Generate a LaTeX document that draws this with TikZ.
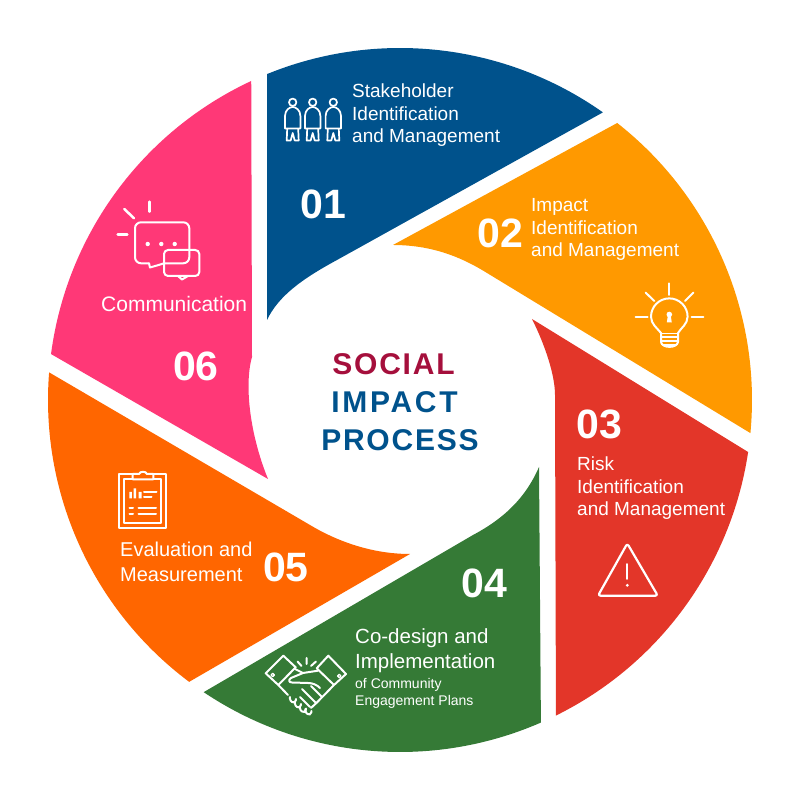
\documentclass[tikz,border=0pt]{standalone}
\usepackage{fontspec}
\usepackage{xcolor}
\setmainfont{Liberation Sans}
\definecolor{bladeblue}{HTML}{00528C}
\definecolor{bladeamber}{HTML}{FF9900}
\definecolor{bladered}{HTML}{E33629}
\definecolor{bladegreen}{HTML}{357A36}
\definecolor{bladeorange}{HTML}{FF6600}
\definecolor{bladepink}{HTML}{FF3877}
\definecolor{titlered}{HTML}{A50F3C}
\tikzset{
  num/.style={anchor=base west,inner sep=0pt,text=white,font=\fontsize{41}{41}\selectfont\bfseries},
  lbl/.style={anchor=base west,inner sep=0pt,text=white,font=\fontsize{19}{22.5}\selectfont},
  ttl/.style={inner sep=0pt,anchor=base,font=\fontsize{30}{30}\selectfont\bfseries\addfontfeature{LetterSpace=6}},
  icon/.style={draw=white,line width=2pt,line join=round,line cap=round,fill=none},
}
\begin{document}
\begin{tikzpicture}[x=1pt,y=1pt]
\useasboundingbox (0,0) rectangle (800,800);
% blades
\fill[bladeblue] (400,400) ++(112.2:352) arc[start angle=112.2,end angle=54.8,radius=352] -- (337,540) .. controls (300,520) and (278,503) .. (267,480) -- cycle;
\fill[bladeamber] (400,400) ++(51.9:352) arc[start angle=51.9,end angle=-5.4,radius=352] -- (487,527) .. controls (455,547) and (425,555) .. (393,555) -- cycle;
\fill[bladered] (400,400) ++(-8.5:352) arc[start angle=-8.5,end angle=-63.7,radius=352] -- (555,405) .. controls (555,425) and (545,455) .. (532,481) -- cycle;
\fill[bladegreen] (400,400) ++(-66.4:352) arc[start angle=-66.4,end angle=-123.9,radius=352] -- (473,265) .. controls (505,282) and (526,303) .. (539,333) -- cycle;
\fill[bladeorange] (400,400) ++(-126.8:352) arc[start angle=-126.8,end angle=-184.5,radius=352] -- (310,275) .. controls (335,260) and (370,246) .. (410,246) -- cycle;
\fill[bladepink] (400,400) ++(172.5:352) arc[start angle=172.5,end angle=115,radius=352] -- (252,443) .. controls (244,415) and (250,365) .. (268,321) -- cycle;
% numbers
\foreach \n/\x/\y in {01/300/581, 02/477/552, 03/576/361, 04/461/202, 05/263/218, 06/173/419}
  \node[num] (n\n) at (\x,\y) {\n};
% labels
\node[lbl,align=left] (stakeholder) at (352,657) {Stakeholder\\Identification\\and Management};
\node[lbl,align=left] (impact) at (531,543) {Impact\\Identification\\and Management};
\node[lbl,align=left] (risk) at (577,284) {Risk\\Identification\\and Management};
\node[lbl,align=left,font=\fontsize{20.5}{25}\selectfont] (codesign) at (355,131) {Co-design and\\Implementation};
\node[lbl,align=left,font=\fontsize{14}{17}\selectfont] (community) at (355,94) {of Community\\Engagement Plans};
\node[lbl,align=left,font=\fontsize{20}{25}\selectfont] (evaluation) at (120,218) {Evaluation and\\Measurement};
\node[lbl,font=\fontsize{21}{25}\selectfont] (communication) at (101,488) {Communication};
% title
\node[ttl,text=titlered] (social) at (393.5,425) {SOCIAL};
\node[ttl,text=bladeblue,font=\fontsize{30}{30}\selectfont\bfseries\addfontfeature{LetterSpace=9}] (impactttl) at (394.5,387) {IMPACT};
\node[ttl,text=bladeblue] (process) at (400,349) {PROCESS};
% icons, written from the top left
\begin{scope}[shift={(0,800)},yscale=-1]
% people
\foreach \x in {292.7,312.7,333.3} {
  \draw[icon,line width=1.7pt] (\x,102.3) circle (3.7);
  \draw[icon,line width=1.7pt] (\x-7.7,128.5) -- (\x-7.7,116) .. controls (\x-7.7,110) and (\x-3,107) .. (\x,107) .. controls (\x+3,107) and (\x+7.7,110) .. (\x+7.7,116) -- (\x+7.7,128.5) -- cycle;
  \draw[icon,line width=1.7pt] (\x-5.5,129) -- (\x-6,140.5) -- (\x-2,140.5) -- (\x,133) -- (\x+2,140.5) -- (\x+6,140.5) -- (\x+5.5,129);
}
% bulb
\draw[icon] (661,333) .. controls (657,328) and (651,324) .. (651,316.7) arc[start angle=180,end angle=360,radius=18.3] .. controls (687.6,324) and (681,328) .. (678,333);
\draw[icon,line width=1.5pt] (661,333.3) -- (678,333.3) (661,337) -- (678,337) (661,341) -- (678,341) (663,345) -- (676,345);
\draw[icon] (661,333) -- (661,342) .. controls (662,348.5) and (677,348.5) .. (678,342) -- (678,333);
\fill[white] (669.3,314.5) circle (2.8);
\fill[white] (668,315) -- (666.8,322.5) -- (671.8,322.5) -- (670.6,315) -- cycle;
\foreach \a/\b/\c/\d in {669.3/283.3/669.3/295, 645.7/292.7/654.3/301, 693.3/292.7/685/301, 635.7/316.7/647.7/316.7, 691.7/316.7/703.3/316.7}
  \draw[icon] (\a,\b) -- (\c,\d);
% warning sign
\draw[icon,line width=2.2pt,rounded corners=2.5pt] (627.3,543.5) -- (657.8,595.7) -- (598,595.7) -- cycle;
\draw[icon,line width=1.7pt] (627.3,564) -- (627.3,579);
\fill[white] (627.3,585.3) circle (1.6);
% clipboard
\draw[icon] (119,474) rectangle (166,528.3);
\draw[icon] (124,479) rectangle (161,523.3);
\draw[icon,fill=bladeorange] (132.7,479.3) -- (132.7,474) -- (139,474) .. controls (140,471) and (146,471) .. (147,474) -- (153.3,474) -- (153.3,479.3) -- cycle;
\fill[white] (129.3,492) rectangle (131.9,498.5) (133.5,488.5) rectangle (136.2,498.5) (138.5,492) rectangle (141.7,498.5);
\draw[icon] (144,492.5) -- (156.5,492.5) (144,497) -- (151.5,497) (129.5,508.5) -- (133,508.5) (138.5,508.5) -- (156,508.5) (129.5,514.5) -- (133,514.5) (138.5,514.5) -- (156,514.5);
% handshake
\draw[icon] (265.7,673.3) -- (283.3,655.7) -- (295.7,667.3) -- (278.3,685) -- cycle;
\draw[icon] (346,674) -- (328.3,655.7) -- (316.7,668.3) -- (334,685) -- cycle;
\draw[icon,line width=1.4pt] (272.7,675) circle (1.7) (339.3,676) circle (1.7);
\draw[icon] (295,669) -- (303,673) (318,670.7) -- (303,673) -- (291,678) .. controls (288,680) and (289,682.5) .. (292,682.5) -- (308,683) .. controls (313,683) and (317,685) .. (320,688);
\draw[icon] (334,685) -- (316.7,702.7) -- (311,708) (278.3,685) -- (288,695) (311,686) -- (322,697) (302,689) -- (316,703) (300,697) -- (310,707);
\foreach \x/\y in {293/699.5, 298/704.5, 303/709, 308.5/711.5}
  \draw[icon,rounded corners=1.5pt] (\x-3,\y-2.5) -- (\x-3.5,\y) -- (\x,\y+3.5) -- (\x+2.5,\y+2.5) -- (\x+3,\y-0.5);
\draw[icon] (306.5,658) -- (306.5,664) (297.5,661.5) -- (301.5,666) (316,661.5) -- (311,666);
% chat bubbles
\draw[icon,rounded corners=6pt] (149,263.3) -- (135,263.3) -- (135,222.3) -- (189.3,222.3) -- (189.3,263.3) -- (164,263.3);
\draw[icon] (149,263.3) -- (150,267.5) -- (157,265.5) -- (164,263.3);
\draw[icon,rounded corners=4pt] (164,250) rectangle (199.3,276);
\draw[icon] (178,276) -- (182,279.5) -- (188,276);
\fill[white] (147.7,244) circle (2.2) (161.3,244) circle (2.2) (174.7,244) circle (2.2);
\foreach \a/\b/\c/\d in {149.3/201.7/149.3/211.7, 124.3/209/134/218.3, 117.7/234.3/127.3/234.3}
  \draw[icon,line width=2.5pt] (\a,\b) -- (\c,\d);
\end{scope}
\end{tikzpicture}
\end{document}
